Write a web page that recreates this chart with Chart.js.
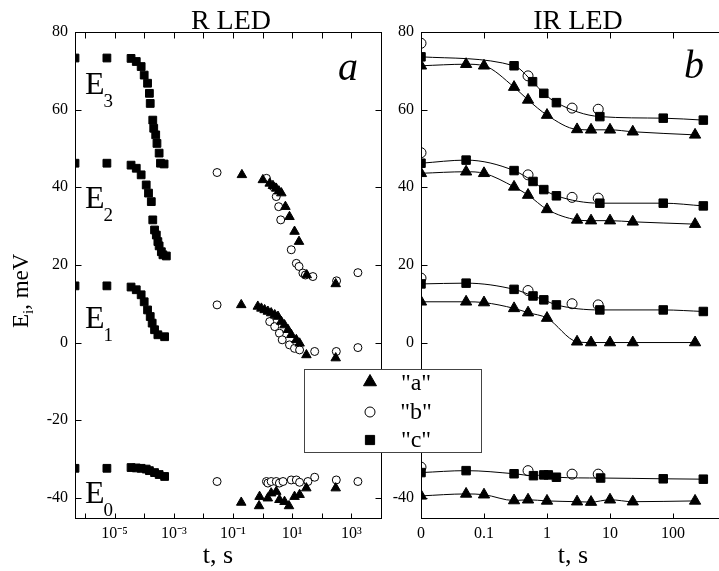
<!DOCTYPE html>
<html><head><meta charset="utf-8">
<script src="https://cdn.jsdelivr.net/npm/chart.js@4.4.0/dist/chart.umd.min.js"></script>
<style>
html,body{margin:0;padding:0;background:#fff;overflow:hidden;}
#wrap{position:relative;width:719px;height:571px;overflow:hidden;background:#fff;}
canvas{position:absolute;left:0;top:0;}
</style></head><body>
<div id="wrap">
<canvas id="cR" width="719" height="571"></canvas>
<canvas id="cIR" width="730" height="571"></canvas>
</div>
<script>
// ================= DATA =================
const seriesNames = ['"a"', '"b"', '"c"'];
const levelNames = ['E3', 'E2', 'E1', 'E0'];

// common energy axis
const yTicksE = [-40, -20, 0, 20, 40, 60, 80];
const yMin = -45.2, yMax = 80;

// ---- Panel a: R LED, time in s (log axis) ----
const rDecades = [-6, -5, -4, -3, -2, -1, 0, 1, 2, 3, 4];
const rLabelled = [-5, -3, -1, 1, 3];
const rXMin = 4.6e-7, rXMax = 1e4;

// series "c" (squares)
const rC_E3_t = [4.6e-7, 5.5e-6, 3.6e-5, 5.4e-5, 7.9e-5, 1.0e-4, 1.3e-4, 1.5e-4, 1.6e-4, 1.95e-4, 2.1e-4, 2.45e-4, 2.7e-4, 3.2e-4, 3.55e-4, 4.7e-4];
const rC_E3   = [73.3, 73.3, 73.2, 72.4, 71.1, 68.9, 66.8, 64.2, 61.6, 57.3, 55.2, 53.5, 51.3, 48.8, 46.2, 46.0];
const rC_E2_t = [4.6e-7, 5.5e-6, 3.6e-5, 5.4e-5, 7.9e-5, 1.17e-4, 1.4e-4, 1.74e-4, 1.95e-4, 2.24e-4, 2.57e-4, 2.9e-4, 3.2e-4, 3.8e-4, 4.3e-4, 5.6e-4];
const rC_E2   = [46.2, 46.2, 45.7, 44.9, 43.2, 40.6, 38.5, 36.3, 31.6, 29.0, 27.7, 26.0, 24.9, 23.4, 22.6, 22.3];
const rC_E1_t = [4.6e-7, 5.5e-6, 3.6e-5, 5.4e-5, 7.9e-5, 1.0e-4, 1.3e-4, 1.6e-4, 1.86e-4, 2.24e-4, 2.9e-4, 4.9e-4];
const rC_E1   = [14.6, 14.6, 14.3, 13.6, 12.3, 10.5, 8.4, 6.7, 5.0, 3.3, 2.0, 1.5];
const rC_E0_t = [4.6e-7, 5.5e-6, 3.6e-5, 5.4e-5, 7.9e-5, 1.17e-4, 1.5e-4, 2.24e-4, 3.2e-4, 4.9e-4];
const rC_E0   = [-32.4, -32.4, -32.2, -32.3, -32.4, -32.6, -33.0, -33.5, -34.0, -34.5];

// series "a" (triangles)
const rA_E2_t = [0.2, 1.02, 1.74, 2.24, 2.9, 3.55, 4.3, 5.9, 8.1, 12, 17, 31, 295];
const rA_E2   = [43.2, 41.9, 41.0, 40.4, 39.7, 39.0, 38.5, 35.0, 32.4, 28.6, 26.0, 17.4, 15.1];
const rA_E1_t = [0.19, 0.69, 0.91, 1.17, 1.51, 1.95, 2.57, 3.31, 4.27, 5.5, 7.2, 9.3, 13.8, 17.8, 30.2, 295];
const rA_E1   = [9.7, 9.3, 8.8, 8.4, 8.0, 7.6, 7.1, 6.7, 5.4, 4.5, 3.3, 2.0, 0.7, -0.2, -3.2, -4.0];
const rA_E0_t = [0.19, 0.76, 0.79, 1.5, 1.95, 2.9, 3.7, 5.5, 7.8, 12, 17.8, 30, 295];
const rA_E0   = [-41.2, -42.1, -39.7, -40.1, -38.8, -38.4, -40.5, -41.0, -42.1, -39.7, -39.2, -37.5, -37.5];

// series "b" (open circles)
const rB_E2_t = [0.029, 1.35, 2.24, 2.9, 3.5, 4.1, 9.3, 13.8, 17, 23, 28, 50, 316, 1660];
const rB_E2   = [43.8, 42.3, 40.2, 37.6, 35.0, 31.6, 23.9, 20.4, 19.6, 17.9, 17.4, 17.0, 15.9, 18.0];
const rB_E1_t = [0.029, 1.74, 2.57, 3.7, 4.6, 8.1, 12, 17.8, 57.5, 309, 1660];
const rB_E1   = [9.7, 5.4, 4.1, 2.4, 0.7, -0.6, -1.5, -1.9, -2.3, -2.3, -1.3];
const rB_E0_t = [0.029, 1.35, 1.51, 1.95, 2.9, 3.7, 4.9, 9.3, 13.8, 17.8, 34, 57.5, 309, 1660];
const rB_E0   = [-35.8, -35.8, -36.2, -35.8, -35.8, -36.2, -35.8, -35.4, -35.4, -36.0, -35.8, -34.7, -35.4, -35.8];

// ---- Panel b: IR LED, time in s (log axis, "0" drawn at the axis origin) ----
const irTickVals = [0.01, 0.1, 1, 10, 100];
const irTickLabels = ['0', '0.1', '1', '10', '100'];
const irZero = 0.01;          // axis position used for t = 0
const irXMax = 578;

const irC_t    = [0, 0.052, 0.30, 0.60, 0.89, 1.41, 6.9, 70, 303];
const irC_E3_t = [0, 0.30, 0.59, 0.89, 1.41, 6.9, 70, 303];
const irC_E3   = [73.6, 71.3, 67.2, 64.2, 61.8, 58.2, 57.8, 57.3];
const irC_E2   = [46.2, 47.0, 44.3, 41.5, 39.4, 37.8, 35.9, 35.9, 35.2];
const irC_E1   = [15.1, 15.3, 13.7, 12.0, 11.0, 9.7, 8.4, 8.4, 8.0];
const irC_E0_t = [0, 0.052, 0.30, 0.61, 0.89, 1.05, 1.41, 7.1, 70, 303];
const irC_E0   = [-33.5, -33.0, -33.8, -34.3, -34.1, -34.1, -34.7, -34.9, -35.1, -35.2];

const irA_t  = [0, 0.052, 0.1, 0.3, 0.5, 1.0, 3.0, 5.0, 10, 23, 224];
const irA_E3 = [71.3, 71.7, 71.3, 65.8, 62.5, 58.6, 54.9, 54.8, 54.8, 54.3, 53.5];
const irA_E2 = [43.6, 44.0, 43.6, 40.1, 38.0, 34.3, 31.6, 31.4, 31.4, 31.1, 30.5];
const irA_E1 = [10.5, 10.5, 10.3, 8.8, 7.7, 6.3, 0.2, 0.0, 0.0, 0.0, 0.0];
const irA_E0 = [-39.5, -39.0, -39.2, -40.7, -40.5, -40.8, -41.0, -41.1, -40.5, -41.0, -40.8];

const irB_t  = [0, 0.5, 2.5, 6.5];
const irB_E3 = [77.1, 68.7, 60.4, 60.1];
const irB_E2 = [48.9, 43.2, 37.4, 37.2];
const irB_E1 = [16.6, 13.4, 10.0, 9.7];
const irB_E0 = [-32.1, -33.0, -33.9, -33.9];

// ================= HELPERS =================
const FONT = '"Liberation Serif", "Times New Roman", serif';
const SUP = {'-':'\u207B','0':'\u2070','1':'\u00B9','2':'\u00B2','3':'\u00B3','4':'\u2074','5':'\u2075','6':'\u2076','7':'\u2077','8':'\u2078','9':'\u2079'};
const sup = s => String(s).split('').map(c => SUP[c]).join('');
const pts = (t, e) => t.map((v, i) => ({x: v, y: e[i]}));
const irPts = (t, e) => t.map((v, i) => ({x: v === 0 ? irZero : v, y: e[i]}));

function frameTicksPlugin(rightTicks) {
  return {
    id: 'frameTicks',
    afterDraw(chart) {
      const {ctx, chartArea: a} = chart;
      const x = chart.scales.x, y = chart.scales.y;
      ctx.save();
      ctx.strokeStyle = '#000'; ctx.lineWidth = 1;
      const L = Math.round(a.left) + 0.5, T = Math.round(a.top) + 0.5;
      const R = Math.round(a.right) + 0.5, B = Math.round(a.bottom) + 0.5;
      ctx.strokeRect(L, T, R - L, B - T);
      ctx.beginPath();
      x.ticks.forEach(t => {
        const px = Math.round(x.getPixelForValue(t.value)) + 0.5;
        ctx.moveTo(px, B); ctx.lineTo(px, B - 5);
        ctx.moveTo(px, T); ctx.lineTo(px, T + 6);
      });
      y.ticks.forEach(t => {
        const py = Math.round(y.getPixelForValue(t.value)) + 0.5;
        ctx.moveTo(L, py); ctx.lineTo(L + 6, py);
        if (rightTicks) { ctx.moveTo(R, py); ctx.lineTo(R - 6, py); }
      });
      ctx.stroke();
      ctx.restore();
    }
  };
}

function yScale(width) {
  return {
    type: 'linear', min: yMin, max: yMax,
    afterBuildTicks: s => { s.ticks = yTicksE.map(v => ({value: v})); },
    afterFit: s => { s.width = width; },
    grid: {display: false, drawTicks: false},
    border: {display: false},
    ticks: {color: '#000', font: {family: FONT, size: 16}, padding: 7}
  };
}

function scatterSet(data, style, r, fill) {
  return {
    data, pointStyle: style, pointRadius: r, pointHoverRadius: r,
    pointBackgroundColor: fill, pointBorderColor: '#000', pointBorderWidth: 1,
    showLine: false
  };
}

// ================= PANEL a : R LED =================
const textR = {
  id: 'textR',
  afterDraw(chart) {
    const ctx = chart.ctx;
    ctx.save();
    ctx.fillStyle = '#000';
    ctx.textBaseline = 'alphabetic';
    ctx.textAlign = 'center';
    ctx.font = '28px ' + FONT;
    ctx.fillText('R LED', 231, 29);
    ctx.font = '26px ' + FONT;
    ctx.fillText('t, s', 218, 563);
    // level labels
    ctx.textAlign = 'left';
    const base = [94, 208, 328, 503];
    levelNames.forEach((n, i) => {
      ctx.font = '32px ' + FONT;
      ctx.fillText(n[0], 85, base[i]);
      const w = ctx.measureText(n[0]).width;
      ctx.font = '19px ' + FONT;
      ctx.fillText(n.slice(1), 85 + w - 1, base[i] + 13);
    });
    // panel letter
    ctx.font = 'italic 40px ' + FONT;
    ctx.fillText('a', 338, 80);
    // y title
    ctx.translate(28, 328);
    ctx.rotate(-Math.PI / 2);
    ctx.font = '23px ' + FONT;
    ctx.fillText('E', 0, 0);
    let w = ctx.measureText('E').width;
    ctx.font = '15px ' + FONT;
    ctx.fillText('i', w, 5);
    w += ctx.measureText('i').width;
    ctx.font = '23px ' + FONT;
    ctx.fillText(', meV', w, 0);
    ctx.restore();
  }
};

new Chart(document.getElementById('cR'), {
  type: 'scatter',
  data: {
    datasets: [
      scatterSet([...pts(rC_E3_t, rC_E3), ...pts(rC_E2_t, rC_E2), ...pts(rC_E1_t, rC_E1), ...pts(rC_E0_t, rC_E0)], 'rect', 5.5, '#000'),
      scatterSet([...pts(rA_E2_t, rA_E2), ...pts(rA_E1_t, rA_E1), ...pts(rA_E0_t, rA_E0)], 'triangle', 5.5, '#000'),
      scatterSet([...pts(rB_E2_t, rB_E2), ...pts(rB_E1_t, rB_E1), ...pts(rB_E0_t, rB_E0)], 'circle', 4, '#fff')
    ]
  },
  options: {
    responsive: false, animation: false, devicePixelRatio: 1,
    layout: {padding: {left: 0, right: 338, top: 32, bottom: 0}},
    plugins: {legend: {display: false}, tooltip: {enabled: false}},
    scales: {
      x: {
        type: 'logarithmic', min: rXMin, max: rXMax,
        afterBuildTicks: s => { s.ticks = rDecades.map(e => ({value: Math.pow(10, e)})); },
        afterFit: s => { s.height = 53; },
        grid: {display: false, drawTicks: false},
        border: {display: false},
        ticks: {
          autoSkip: false, maxRotation: 0, color: '#000', padding: 6,
          font: {family: FONT, size: 16},
          callback: (v, i) => rLabelled.includes(rDecades[i]) ? '10' + sup(rDecades[i]) : ''
        }
      },
      y: yScale(75)
    }
  },
  plugins: [frameTicksPlugin(true), textR]
});

// ================= PANEL b : IR LED =================
const textIR = {
  id: 'textIR',
  afterDraw(chart) {
    const ctx = chart.ctx;
    ctx.save();
    ctx.fillStyle = '#000';
    ctx.textBaseline = 'alphabetic';
    ctx.textAlign = 'center';
    ctx.font = '28px ' + FONT;
    ctx.fillText('IR LED', 578, 29);
    ctx.font = '26px ' + FONT;
    ctx.fillText('t, s', 573, 563);
    ctx.textAlign = 'left';
    ctx.font = 'italic 40px ' + FONT;
    ctx.fillText('b', 684, 78);
    // legend box (spans both panels)
    ctx.fillStyle = '#fff';
    ctx.fillRect(304, 369, 177, 83);
    ctx.strokeStyle = '#444'; ctx.lineWidth = 1;
    ctx.strokeRect(304.5, 369.5, 177, 83);
    const items = [
      {style: 'triangle', r: 7.5, fill: '#000', y: 382, ty: 390},
      {style: 'circle', r: 5, fill: '#fff', y: 412, ty: 419},
      {style: 'rect', r: 6.5, fill: '#000', y: 440, ty: 447}
    ];
    items.forEach((it, i) => {
      ctx.fillStyle = it.fill; ctx.strokeStyle = '#000'; ctx.lineWidth = 1;
      Chart.helpers.drawPoint(ctx, {pointStyle: it.style, radius: it.r, rotation: 0, borderWidth: 1}, 370, it.y);
      ctx.fillStyle = '#000';
      ctx.textAlign = 'center';
      ctx.font = '24px ' + FONT;
      ctx.fillText(seriesNames[i], 416, it.ty);
    });
    ctx.restore();
  }
};

function lineSet(data, style, r, fill) {
  return {
    data, pointStyle: style, pointRadius: r, pointHoverRadius: r,
    pointBackgroundColor: fill, pointBorderColor: '#000', pointBorderWidth: 1,
    showLine: true, borderColor: '#000', borderWidth: 1, cubicInterpolationMode: 'monotone', fill: false
  };
}

new Chart(document.getElementById('cIR'), {
  type: 'scatter',
  data: {
    datasets: [
      lineSet(irPts(irC_E3_t, irC_E3), 'rect', 6, '#000'),
      lineSet(irPts(irC_t, irC_E2), 'rect', 6, '#000'),
      lineSet(irPts(irC_t, irC_E1), 'rect', 6, '#000'),
      lineSet(irPts(irC_E0_t, irC_E0), 'rect', 6, '#000'),
      lineSet(irPts(irA_t, irA_E3), 'triangle', 6.5, '#000'),
      lineSet(irPts(irA_t, irA_E2), 'triangle', 6.5, '#000'),
      lineSet(irPts(irA_t, irA_E1), 'triangle', 6.5, '#000'),
      lineSet(irPts(irA_t, irA_E0), 'triangle', 6.5, '#000'),
      scatterSet([...irPts(irB_t, irB_E3), ...irPts(irB_t, irB_E2), ...irPts(irB_t, irB_E1), ...irPts(irB_t, irB_E0)], 'circle', 5, '#fff')
    ]
  },
  options: {
    responsive: false, animation: false, devicePixelRatio: 1,
    layout: {padding: {left: 381, right: 9, top: 32, bottom: 0}},
    plugins: {legend: {display: false}, tooltip: {enabled: false}},
    scales: {
      x: {
        type: 'logarithmic', min: irZero, max: irXMax,
        afterBuildTicks: s => { s.ticks = irTickVals.map(v => ({value: v})); },
        afterFit: s => { s.height = 53; },
        grid: {display: false, drawTicks: false},
        border: {display: false},
        ticks: {
          autoSkip: false, maxRotation: 0, color: '#000', padding: 6,
          font: {family: FONT, size: 16},
          callback: (v, i) => irTickLabels[i]
        }
      },
      y: yScale(40)
    }
  },
  plugins: [frameTicksPlugin(false), textIR]
});
</script>
</body></html>
